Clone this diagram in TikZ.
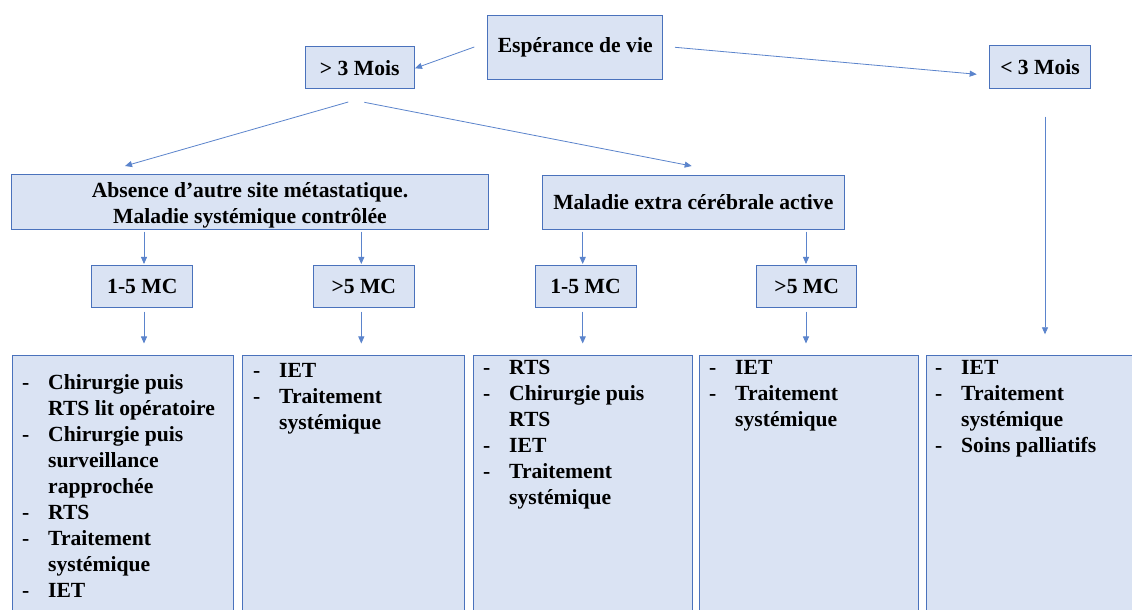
\documentclass[tikz,border=0pt]{standalone}
\usepackage{fontspec}
\setmainfont{Liberation Serif}
\usetikzlibrary{arrows.meta}
\definecolor{boxfill}{HTML}{DAE3F3}
\definecolor{boxdraw}{HTML}{4A72BC}
\definecolor{arrcol}{HTML}{5B84CC}
\newcommand\itm[1]{\par\noindent\hangindent=26pt\hangafter=1\makebox[26pt][l]{-}#1\par}
\begin{document}
\begin{tikzpicture}[x=1pt,y=1pt,
  font=\fontsize{21.6}{25.9}\selectfont\bfseries,
  box/.style={draw=boxdraw,fill=boxfill,line width=1pt,inner sep=0pt,align=center},
  arr/.style={draw=arrcol,line width=0.8pt,-{Triangle[length=7pt,width=6pt]}},
  listtxt/.style={anchor=base west,inner sep=0pt}]
\clip (0,0) rectangle (1132,610);
\fill[white] (0,0) rectangle (1132,610);
% top
\node[box,minimum width=175pt,minimum height=63.5pt] (esp) at (575.2,562.7) {Espérance de vie};
\node[box,minimum width=109.3pt,minimum height=42pt] (gt3) at (359.7,542.3) {> 3 Mois};
\node[box,minimum width=101.4pt,minimum height=43pt] (lt3) at (1040,542.5) {< 3 Mois};
% second row
\node[box,minimum width=476.6pt,minimum height=54.3pt] (abs) at (250,408) {};
\node[align=center,inner sep=0pt] (abst) at ([yshift=-3.5pt]abs.center)
  {Absence d’autre site métastatique.\\Maladie systémique contrôlée};
\node[box,minimum width=302pt,minimum height=54.3pt] (mal) at (693.3,407.8) {Maladie extra cérébrale active};
% MC row
\node[box,minimum width=100.7pt,minimum height=42pt] (mc1) at (142.3,323.7) {1-5 MC};
\node[box,minimum width=101pt,minimum height=42pt] (mc2) at (363.8,323.7) {>5 MC};
\node[box,minimum width=101pt,minimum height=42.3pt] (mc3) at (585.5,323.8) {1-5 MC};
\node[box,minimum width=100pt,minimum height=42.3pt] (mc4) at (806.7,323.8) {>5 MC};
% bottom boxes
\node[box,anchor=north west,minimum width=221pt,minimum height=290pt] (b1) at (11.7,255) {};
\node[box,anchor=north west,minimum width=222.6pt,minimum height=290pt] (b2) at (241.7,254.5) {};
\node[box,anchor=north west,minimum width=218.4pt,minimum height=290pt] (b3) at (473.3,255.3) {};
\node[box,anchor=north west,minimum width=218.4pt,minimum height=290pt] (b4) at (699.3,255) {};
\node[box,anchor=north west,minimum width=230pt,minimum height=290pt] (b5) at (925.7,255) {};
% list texts
\node[listtxt] (t1) at (22,220) {\parbox[t]{205pt}{%
  \itm{Chirurgie puis\newline RTS lit opératoire}
  \itm{Chirurgie puis\newline surveillance\newline rapprochée}
  \itm{RTS}
  \itm{Traitement\newline systémique}
  \itm{IET}}};
\node[listtxt] (t2) at (253,232.5) {\parbox[t]{205pt}{%
  \itm{IET}
  \itm{Traitement\newline systémique}}};
\node[listtxt] (t3) at (483,235) {\parbox[t]{205pt}{%
  \itm{RTS}
  \itm{Chirurgie puis\newline RTS}
  \itm{IET}
  \itm{Traitement\newline systémique}}};
\node[listtxt] (t4) at (709,235) {\parbox[t]{205pt}{%
  \itm{IET}
  \itm{Traitement\newline systémique}}};
\node[listtxt] (t5) at (935,235) {\parbox[t]{190pt}{%
  \itm{IET}
  \itm{Traitement\newline systémique}
  \itm{Soins palliatifs}}};
% connector end points
\coordinate (e1s) at (474.3,563);   \coordinate (e1e) at (415,541.7);
\coordinate (e2s) at (675,562.7);   \coordinate (e2e) at (976.7,535.7);
\coordinate (g1s) at (348.3,508);   \coordinate (g1e) at (125,444);
\coordinate (g2s) at (364.3,507.7); \coordinate (g2e) at (691.7,444);
\coordinate (a1s) at (144,378.3);   \coordinate (a1e) at (144,346);
\coordinate (a2s) at (361.3,378.3); \coordinate (a2e) at (361.3,346);
\coordinate (m1s) at (582.7,378.3); \coordinate (m1e) at (582.7,346);
\coordinate (m2s) at (806,378.3);   \coordinate (m2e) at (806,346);
\coordinate (c1s) at (144,298.3);   \coordinate (c1e) at (144,266.5);
\coordinate (c2s) at (361.3,298.3); \coordinate (c2e) at (361.3,266.5);
\coordinate (c3s) at (582.7,298.3); \coordinate (c3e) at (582.7,266.5);
\coordinate (c4s) at (806,298.3);   \coordinate (c4e) at (806,266.5);
\coordinate (l1s) at (1045,493.3);  \coordinate (l1e) at (1045,275.7);
% connectors
\draw[arr] (e1s) -- (e1e);
\draw[arr] (e2s) -- (e2e);
\draw[arr] (g1s) -- (g1e);
\draw[arr] (g2s) -- (g2e);
\draw[arr] (a1s) -- (a1e);
\draw[arr] (a2s) -- (a2e);
\draw[arr] (m1s) -- (m1e);
\draw[arr] (m2s) -- (m2e);
\draw[arr] (c1s) -- (c1e);
\draw[arr] (c2s) -- (c2e);
\draw[arr] (c3s) -- (c3e);
\draw[arr] (c4s) -- (c4e);
\draw[arr] (l1s) -- (l1e);
\end{tikzpicture}
\end{document}
